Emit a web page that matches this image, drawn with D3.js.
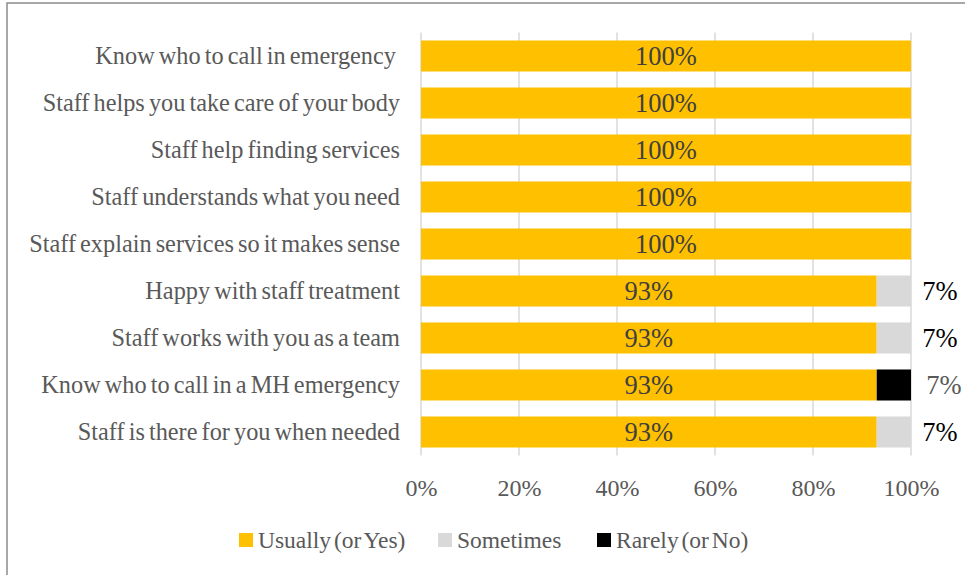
<!DOCTYPE html>
<html>
<head>
<meta charset="utf-8">
<script src="https://cdn.jsdelivr.net/npm/d3@7"></script>
<style>
  html, body { margin: 0; padding: 0; background: #fff; }
  svg { display: block; }
  text { font-family: "Liberation Serif", "Times New Roman", serif; }
</style>
</head>
<body>
<svg id="chart" width="965" height="575"></svg>
<script>
// Survey items, top to bottom
const categories = [
  "Know who to call in emergency ",
  "Staff helps you take care of your body",
  "Staff help finding services",
  "Staff understands what you need",
  "Staff explain services so it makes sense",
  "Happy with staff treatment",
  "Staff works with you as a team",
  "Know who to call in a MH emergency",
  "Staff is there for you when needed"
];

// Share of responses (percent) per answer
const usually   = [100, 100, 100, 100, 100, 93, 93, 93, 93];
const sometimes = [0, 0, 0, 0, 0, 7, 7, 0, 7];
const rarely    = [0, 0, 0, 0, 0, 0, 0, 7, 0];

const seriesNames = ["Usually (or Yes)", "Sometimes", "Rarely (or No)"];
const xTicks = [0, 20, 40, 60, 80, 100];

const colors = { "Usually (or Yes)": "#FFC000", "Sometimes": "#D9D9D9", "Rarely (or No)": "#000000" };
const serif = "Liberation Serif, Times New Roman, serif";

const svg = d3.select("#chart");

// chart frame
svg.append("rect")
  .attr("x", 7).attr("y", 3)
  .attr("width", 980).attr("height", 600)
  .attr("fill", "none")
  .attr("stroke", "#8c8c8c")
  .attr("stroke-width", 1.5);

const x = d3.scaleLinear().domain([0, 100]).range([421, 911]);
const y = d3.scaleBand().domain(categories).range([32.5, 455.5])
  .paddingInner(0.34).paddingOuter(0.17);

// vertical gridlines
svg.append("g").selectAll("line")
  .data(xTicks)
  .join("line")
  .attr("x1", d => x(d)).attr("x2", d => x(d))
  .attr("y1", 32.5).attr("y2", 455.5)
  .attr("stroke", "#d9d9d9")
  .attr("stroke-width", 1.5);

// stacked rows
const rows = categories.map((c, i) => ({
  cat: c,
  "Usually (or Yes)": usually[i],
  "Sometimes": sometimes[i],
  "Rarely (or No)": rarely[i]
}));
const stacked = d3.stack().keys(seriesNames)(rows);

svg.append("g").selectAll("g")
  .data(stacked)
  .join("g")
  .attr("fill", s => colors[s.key])
  .selectAll("rect")
  .data(s => s)
  .join("rect")
  .attr("x", d => x(d[0]))
  .attr("y", d => y(d.data.cat))
  .attr("width", d => x(d[1]) - x(d[0]))
  .attr("height", y.bandwidth());

// value labels inside the main segment
svg.append("g").selectAll("text")
  .data(stacked[0])
  .join("text")
  .attr("x", d => (x(d[0]) + x(d[1])) / 2)
  .attr("y", d => y(d.data.cat) + y.bandwidth() / 2)
  .attr("dy", "0.35em")
  .attr("text-anchor", "middle")
  .attr("fill", "#404040")
  .attr("font-size", 26.5)
  .text(d => d[1] - d[0] + "%");

// labels for the small segments, placed past the bar end
const outside = [];
categories.forEach((c, i) => {
  if (sometimes[i] > 0) outside.push({ cat: c, v: sometimes[i], key: "Sometimes" });
  if (rarely[i] > 0) outside.push({ cat: c, v: rarely[i], key: "Rarely (or No)" });
});
svg.append("g").selectAll("text")
  .data(outside)
  .join("text")
  .attr("x", d => x(100) + (d.key === "Sometimes" ? 29 : 33))
  .attr("y", d => y(d.cat) + y.bandwidth() / 2)
  .attr("dy", "0.35em")
  .attr("text-anchor", "middle")
  .attr("fill", d => d.key === "Sometimes" ? "#000000" : "#595959")
  .attr("font-size", 26.5)
  .text(d => d.v + "%");

// category axis
const yAxis = svg.append("g")
  .attr("transform", `translate(${x(0)},0)`)
  .call(d3.axisLeft(y).tickSize(0).tickPadding(21));
yAxis.select(".domain").remove();
yAxis.selectAll("text")
  .attr("font-family", serif)
  .attr("font-size", 24.3)
  .attr("word-spacing", -2)
  .style("white-space", "pre")
  .attr("fill", "#595959");

// percentage axis
const xAxis = svg.append("g")
  .attr("transform", "translate(0,476)")
  .call(d3.axisBottom(x).tickValues(xTicks).tickSize(0).tickFormat(d => d + "%"));
xAxis.select(".domain").remove();
xAxis.selectAll("text")
  .attr("font-family", serif)
  .attr("font-size", 24)
  .attr("fill", "#595959");

// legend
const legendX = [239, 438, 597];
const legend = svg.append("g").selectAll("g")
  .data(seriesNames)
  .join("g")
  .attr("transform", (d, i) => `translate(${legendX[i]},540)`);
legend.append("rect")
  .attr("x", 0).attr("y", -7)
  .attr("width", 14).attr("height", 14)
  .attr("fill", d => colors[d]);
legend.append("text")
  .attr("x", 19).attr("y", 0).attr("dy", "0.35em")
  .attr("font-size", 23.5)
  .attr("word-spacing", -3)
  .attr("fill", "#595959")
  .text(d => d);
</script>
</body>
</html>
